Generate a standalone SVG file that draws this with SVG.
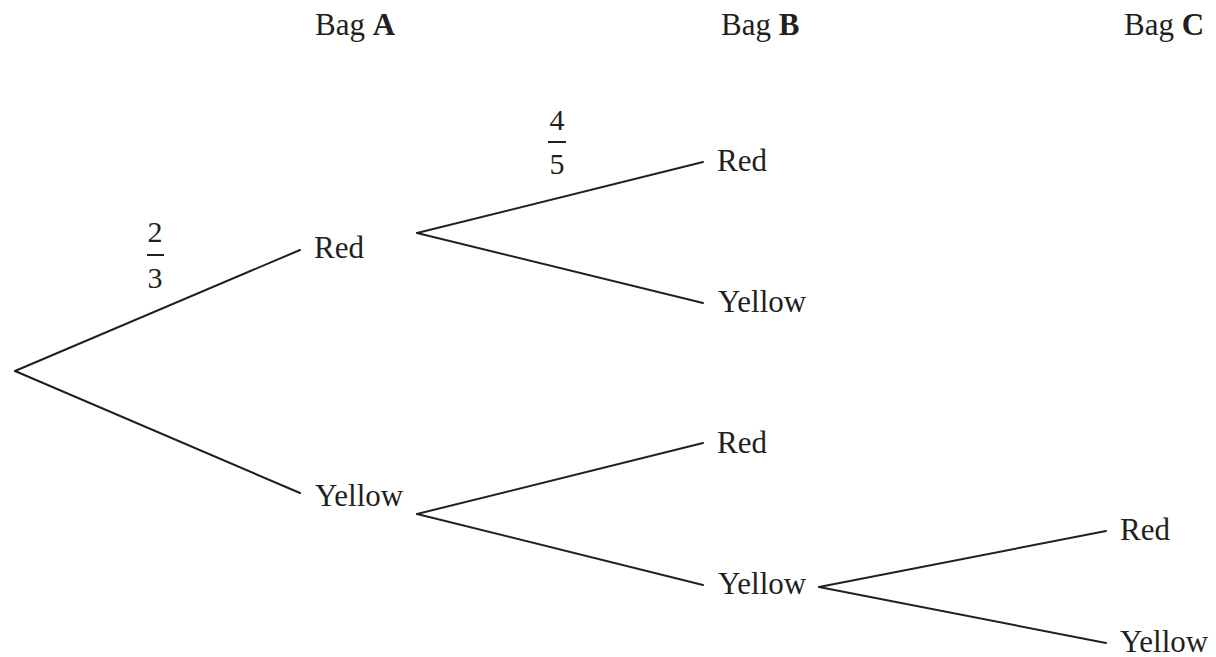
<svg xmlns="http://www.w3.org/2000/svg" width="1216" height="657" viewBox="0 0 1216 657">
<style>
.t{font-size:31px;fill:#231f20}
.frac{font-size:30px;text-anchor:middle;fill:#231f20}
.b{font-weight:bold}
line{stroke:#231f20;stroke-width:2;stroke-linecap:round}
</style>
<rect width="1216" height="657" fill="#ffffff"/>
<g font-family="Liberation Serif, Times New Roman, serif">
<g id="headers">
<text class="t" x="315" y="35">Bag <tspan class="b">A</tspan></text>
<text class="t" x="721" y="35">Bag <tspan class="b">B</tspan></text>
<text class="t" x="1124" y="35">Bag <tspan class="b">C</tspan></text>
</g>
<g id="connectors">
<line x1="15" y1="371" x2="300" y2="250"/>
<line x1="15" y1="371" x2="300" y2="493"/>
<line x1="417" y1="233" x2="703" y2="162"/>
<line x1="417" y1="233" x2="703" y2="303"/>
<line x1="417" y1="514" x2="703" y2="443"/>
<line x1="417" y1="514" x2="703" y2="585"/>
<line x1="819" y1="587" x2="1106" y2="531"/>
<line x1="819" y1="587" x2="1106" y2="643"/>
</g>
<g id="frac-2-3">
<text class="frac" x="155" y="242">2</text>
<line x1="147" y1="255" x2="164" y2="255" style="stroke-linecap:butt"/>
<text class="frac" x="155" y="288">3</text>
</g>
<g id="frac-4-5">
<text class="frac" x="557" y="130">4</text>
<line x1="548" y1="142" x2="566" y2="142" style="stroke-linecap:butt"/>
<text class="frac" x="557" y="174">5</text>
</g>
<g id="node-A-red"><text class="t" x="314" y="258">Red</text></g>
<g id="node-A-yellow"><text class="t" x="315" y="506">Yellow</text></g>
<g id="node-B-red-1"><text class="t" x="717" y="171">Red</text></g>
<g id="node-B-yellow-1"><text class="t" x="718" y="312">Yellow</text></g>
<g id="node-B-red-2"><text class="t" x="717" y="453">Red</text></g>
<g id="node-B-yellow-2"><text class="t" x="718" y="594">Yellow</text></g>
<g id="node-C-red"><text class="t" x="1120" y="540">Red</text></g>
<g id="node-C-yellow"><text class="t" x="1120" y="652">Yellow</text></g>
</g>
</svg>
